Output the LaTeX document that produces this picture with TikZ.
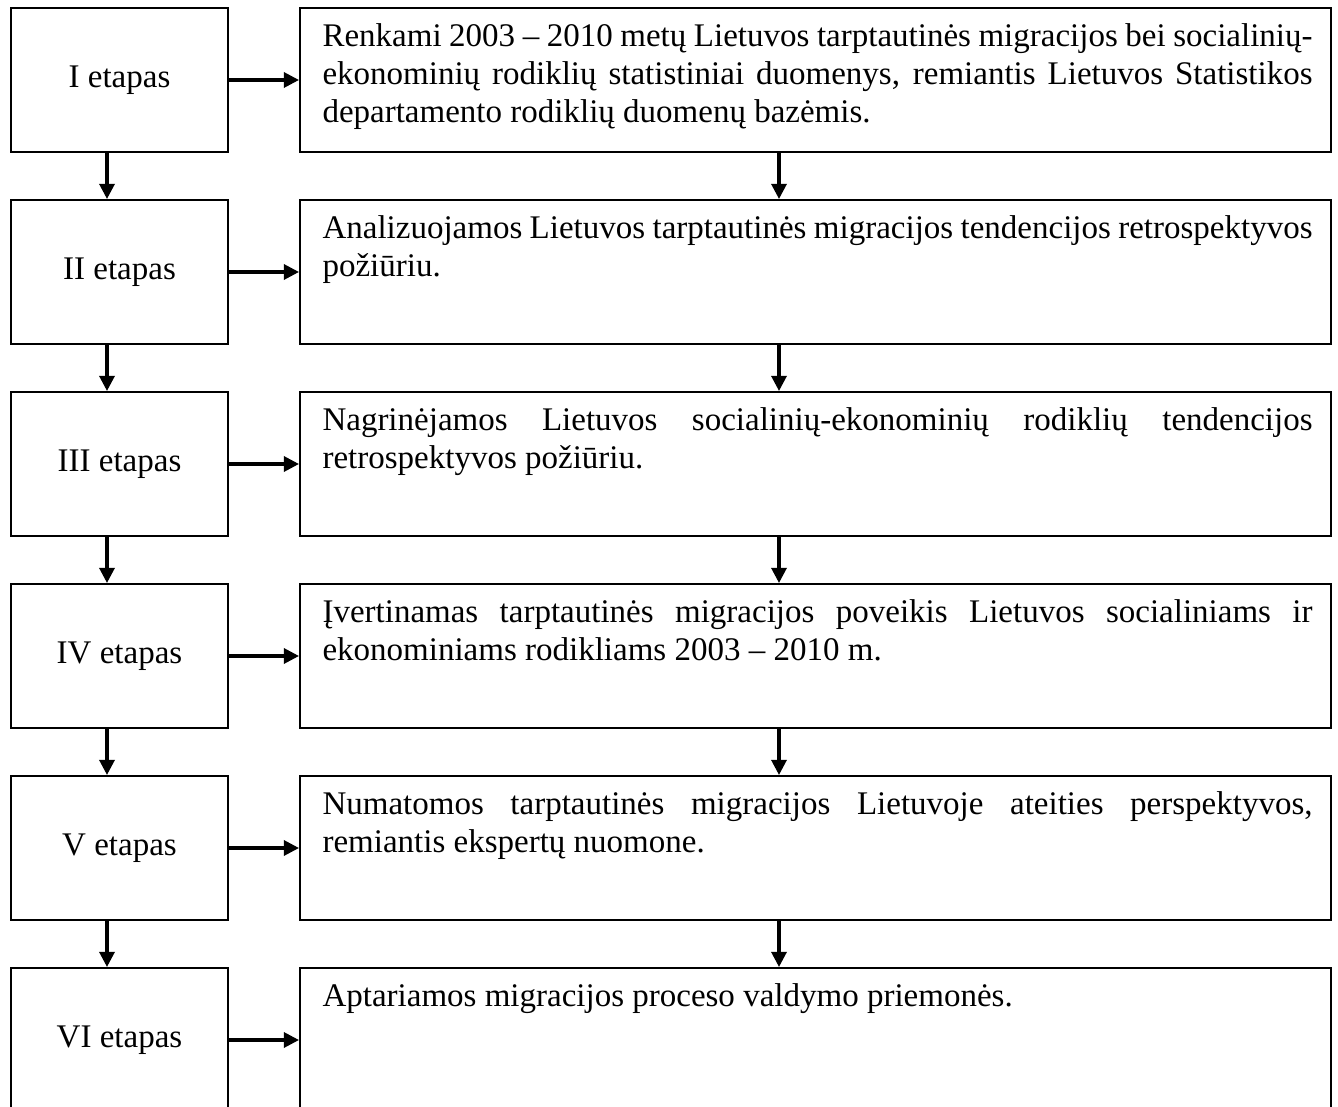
\documentclass[tikz,border=0pt]{standalone}
\usepackage{fontspec}
\setmainfont{Liberation Serif}
\usetikzlibrary{arrows.meta, calc}
\def\px{0.3636pt}
\hyphenpenalty=10000

\tikzset{
	etapas/.style={draw, line width=0.75pt, minimum width=217*\px, minimum height=144*\px, inner sep=0pt, font=\fontsize{12}{13.8}\selectfont},
	aprasas/.style={draw, line width=0.75pt, minimum width=1031*\px, minimum height=144*\px, inner sep=0pt},
	tekstas/.style={anchor=north west, inner sep=0pt, text width=990*\px, align=justify, font=\fontsize{12}{13.8}\selectfont},
	rodykle/.style={-{Triangle[length=5.5pt, width=5.5pt]}, line width=1.1pt}
}

\begin{document}
\begin{tikzpicture}[x=\px, y=-\px]
		\clip (0,0) rectangle (1338,1107);
		% etapai
		\node[etapas] (e1) at (119.5,80) {I etapas};
		\node[etapas] (e2) at (119.5,272) {II etapas};
		\node[etapas] (e3) at (119.5,464) {III etapas};
		\node[etapas] (e4) at (119.5,656) {IV etapas};
		\node[etapas] (e5) at (119.5,848) {V etapas};
		\node[etapas] (e6) at (119.5,1040) {VI etapas};
		% aprasai
		\node[aprasas] (a1) at (815.5,80) {};
		\node[aprasas] (a2) at (815.5,272) {};
		\node[aprasas] (a3) at (815.5,464) {};
		\node[aprasas] (a4) at (815.5,656) {};
		\node[aprasas] (a5) at (815.5,848) {};
		\node[aprasas] (a6) at (815.5,1040) {};
		
		\node[tekstas] (t1) at ($(a1.north west)+(23,12.4)$) {\strut Renkami 2003 – 2010 metų Lietuvos tarptautinės migracijos bei socialinių-\linebreak ekonominių rodiklių statistiniai duomenys, remiantis Lietuvos Statistikos\linebreak departamento rodiklių duomenų bazėmis.};
		\node[tekstas] (t2) at ($(a2.north west)+(23,12.4)$) {\strut Analizuojamos Lietuvos tarptautinės migracijos tendencijos retrospektyvos\linebreak požiūriu.};
		\node[tekstas] (t3) at ($(a3.north west)+(23,12.4)$) {\strut Nagrinėjamos Lietuvos socialinių-ekonominių rodiklių tendencijos\linebreak retrospektyvos požiūriu.};
		\node[tekstas] (t4) at ($(a4.north west)+(23,12.4)$) {\strut Įvertinamas tarptautinės migracijos poveikis Lietuvos socialiniams ir\linebreak ekonominiams rodikliams 2003 – 2010 m.};
		\node[tekstas] (t5) at ($(a5.north west)+(23,12.4)$) {\strut Numatomos tarptautinės migracijos Lietuvoje ateities perspektyvos,\linebreak remiantis ekspertų nuomone.};
		\node[tekstas] (t6) at ($(a6.north west)+(23,12.4)$) {\strut Aptariamos migracijos proceso valdymo priemonės.};
		
		\draw[rodykle] (e1) -- (a1);
		\draw[rodykle] (e2) -- (a2);
		\draw[rodykle] (e3) -- (a3);
		\draw[rodykle] (e4) -- (a4);
		\draw[rodykle] (e5) -- (a5);
		\draw[rodykle] (e6) -- (a6);
		
		\draw[rodykle] ($(e1.south)+(-12.5,0)$) -- ($(e2.north)+(-12.5,0)$);
		\draw[rodykle] ($(e2.south)+(-12.5,0)$) -- ($(e3.north)+(-12.5,0)$);
		\draw[rodykle] ($(e3.south)+(-12.5,0)$) -- ($(e4.north)+(-12.5,0)$);
		\draw[rodykle] ($(e4.south)+(-12.5,0)$) -- ($(e5.north)+(-12.5,0)$);
		\draw[rodykle] ($(e5.south)+(-12.5,0)$) -- ($(e6.north)+(-12.5,0)$);
		
		\draw[rodykle] ($(a1.south)+(-36.5,0)$) -- ($(a2.north)+(-36.5,0)$);
		\draw[rodykle] ($(a2.south)+(-36.5,0)$) -- ($(a3.north)+(-36.5,0)$);
		\draw[rodykle] ($(a3.south)+(-36.5,0)$) -- ($(a4.north)+(-36.5,0)$);
		\draw[rodykle] ($(a4.south)+(-36.5,0)$) -- ($(a5.north)+(-36.5,0)$);
		\draw[rodykle] ($(a5.south)+(-36.5,0)$) -- ($(a6.north)+(-36.5,0)$);
	\end{tikzpicture}
\end{document}
